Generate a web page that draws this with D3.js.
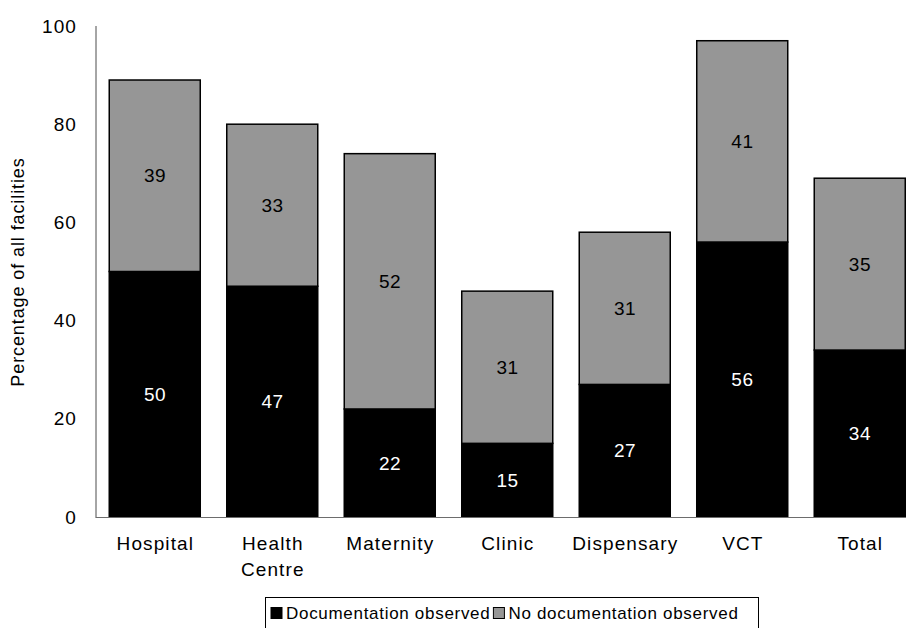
<!DOCTYPE html>
<html><head><meta charset="utf-8">
<script src="https://cdn.jsdelivr.net/npm/d3@7"></script>
<style>body{margin:0;background:#fff;} svg{display:block;font-family:"Liberation Sans",Arial,sans-serif;}</style>
</head><body>
<svg id="chart" width="906" height="628"></svg>
<script>
const categories = ["Hospital", "Health\nCentre", "Maternity", "Clinic", "Dispensary", "VCT", "Total"];
const documented = [50, 47, 22, 15, 27, 56, 34];
const notDocumented = [39, 33, 52, 31, 31, 41, 35];
const seriesNames = ["Documentation observed", "No documentation observed"];
const seriesColors = ["#000000", "#969696"];
const labelColors = ["#ffffff", "#000000"];
const yTicks = [0, 20, 40, 60, 80, 100];

const svg = d3.select("#chart");
const x0 = 96, x1 = 918.5, yTop = 26, yBot = 517;
const LS = 1.1;

const x = d3.scaleBand().domain(categories).range([x0, x1]).paddingInner(0.2255).paddingOuter(0.1128);
const y = d3.scaleLinear().domain([0, 100]).range([yBot, yTop]);

const rows = categories.map((c, i) => ({cat: c, s0: documented[i], s1: notDocumented[i]}));
const stack = d3.stack().keys(["s0", "s1"])(rows);

// bars
stack.forEach((layer, li) => {
  const g = svg.append("g");
  g.selectAll("rect").data(layer).join("rect")
    .attr("x", d => x(d.data.cat))
    .attr("width", x.bandwidth())
    .attr("y", d => y(d[1]))
    .attr("height", d => y(d[0]) - y(d[1]))
    .attr("fill", seriesColors[li])
    .attr("stroke", "#000")
    .attr("stroke-width", 1.5);
  g.selectAll("text").data(layer).join("text")
    .attr("x", d => x(d.data.cat) + x.bandwidth() / 2 + 0.3)
    .attr("y", d => (y(d[0]) + y(d[1])) / 2)
    .attr("dy", "0.35em")
    .attr("text-anchor", "middle")
    .attr("font-size", 19)
    .attr("letter-spacing", 0.6)
    .attr("fill", labelColors[li])
    .text(d => d[1] - d[0]);
});

// axes lines
svg.append("line").attr("x1", x0).attr("x2", x0).attr("y1", yTop).attr("y2", yBot + 1)
  .attr("stroke", "#4d4d4d").attr("stroke-width", 1);
svg.append("line").attr("x1", x0).attr("x2", 906).attr("y1", yBot + 0.5).attr("y2", yBot + 0.5)
  .attr("stroke", "#6d6d6d").attr("stroke-width", 1.2);

// y tick labels
const yAxis = d3.axisLeft(y).tickValues(yTicks).tickSize(0).tickPadding(19);
const ya = svg.append("g").attr("transform", `translate(${x0},0)`).call(yAxis);
ya.select(".domain").remove();
ya.selectAll("text").attr("font-size", 19).attr("letter-spacing", LS)
  .attr("font-family", "Liberation Sans, Arial, sans-serif").attr("fill", "#000");

// x labels
const xl = svg.append("g");
categories.forEach(c => {
  const lines = c.split("\n");
  const cx = x(c) + x.bandwidth() / 2 + LS / 2;
  const t = xl.append("text")
    .attr("x", cx)
    .attr("y", 550)
    .attr("text-anchor", "middle")
    .attr("font-size", 19)
    .attr("letter-spacing", LS)
    .attr("fill", "#000");
  lines.forEach((ln, i) => t.append("tspan").attr("x", cx).attr("dy", i === 0 ? 0 : 26).text(ln));
});

// y axis title
svg.append("text")
  .attr("transform", "translate(24,272) rotate(-90)")
  .attr("text-anchor", "middle")
  .attr("font-size", 18)
  .attr("letter-spacing", 0.9)
  .attr("fill", "#000")
  .text("Percentage of all facilities");

// legend
const lg = svg.append("g");
lg.append("rect").attr("x", 265.5).attr("y", 597.5).attr("width", 493).attr("height", 60)
  .attr("fill", "#fff").attr("stroke", "#000").attr("stroke-width", 1);
let lx = 271;
seriesNames.forEach((n, i) => {
  lg.append("rect").attr("x", lx).attr("y", 607.5).attr("width", 11).attr("height", 11)
    .attr("fill", seriesColors[i]).attr("stroke", "#000").attr("stroke-width", 1);
  const t = lg.append("text").attr("x", lx + 15).attr("y", 618.5)
    .attr("font-size", 17).attr("letter-spacing", 0.7).attr("fill", "#000").text(n);
  lx += 15 + t.node().getComputedTextLength() + 3;
});
</script>
</body></html>
